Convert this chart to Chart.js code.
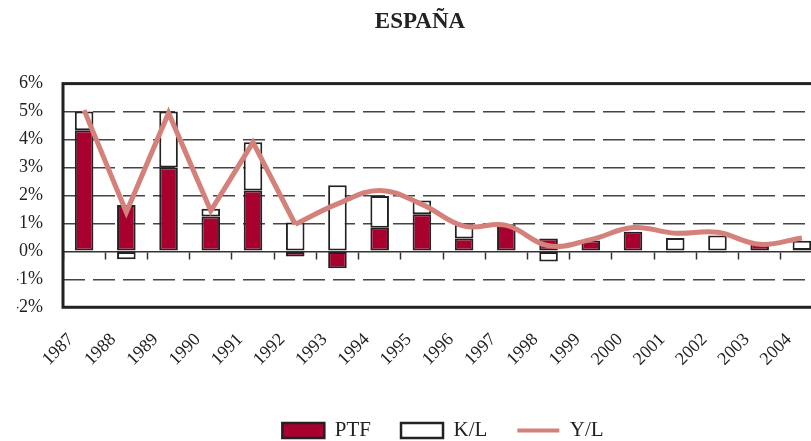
<!DOCTYPE html>
<html>
<head>
<meta charset="utf-8">
<script src="https://cdn.jsdelivr.net/npm/chart.js@4/dist/chart.umd.min.js"></script>
<style>
  html, body { margin: 0; padding: 0; background: #fff; overflow: hidden; }
  #wrap { width: 825px; height: 441px; }
</style>
</head>
<body>
<div id="wrap"><canvas id="myChart"></canvas></div>
<script>
// datos
const years = ['1987', '1988', '1989', '1990', '1991', '1992', '1993', '1994', '1995',
  '1996', '1997', '1998', '1999', '2000', '2001', '2002', '2003', '2004'];
const ptf = [4.33, 1.66, 3.0, 1.25, 2.18, -0.18, -0.6, 0.84, 1.33,
  0.46, 0.97, 0.46, 0.39, 0.7, -0.04, -0.04, 0.26, 0.05];
const kl = [0.67, -0.28, 2.0, 0.27, 1.72, 1.03, 2.36, 1.14, 0.49,
  0.51, 0, -0.36, 0, 0, 0.48, 0.57, 0, 0.33];
const yl = [5.05, 1.4, 4.95, 1.45, 3.9, 0.97, 1.7, 2.18, 1.68,
  0.9, 0.93, 0.2, 0.42, 0.85, 0.65, 0.68, 0.25, 0.48];
const yTicks = [-2, -1, 0, 1, 2, 3, 4, 5, 6];

// la línea Y/L: tramo recto hasta 1992, suavizado después
const sharpUntil = 5;
const ylSharp = yl.map((v, i) => i <= sharpUntil ? v : null);
const ylSmooth = yl.map((v, i) => i >= sharpUntil ? v : null);

const serif = "'Liberation Serif', 'DejaVu Serif', serif";
const ink = '#222';
const lineColor = '#D4807B';

// marco del área del gráfico
const frame = {
  id: 'frame',
  afterDatasetsDraw(chart) {
    const a = chart.chartArea;
    const c = chart.ctx;
    c.save();
    c.strokeStyle = ink;
    c.lineWidth = 3;
    c.strokeRect(a.left, a.top, a.right - a.left, a.bottom - a.top);
    c.restore();
  }
};

const ctx = document.getElementById('myChart');

new Chart(ctx, {
  type: 'bar',
  data: {
    labels: years,
    datasets: [{
      type: 'line',
      label: 'Y/L',
      data: ylSharp,
      borderColor: lineColor,
      backgroundColor: lineColor,
      borderWidth: 5,
      pointRadius: 0,
      tension: 0,
      stack: 'line'
    }, {
      type: 'line',
      label: 'Y/L suave',
      data: ylSmooth,
      borderColor: lineColor,
      backgroundColor: lineColor,
      borderWidth: 5,
      pointRadius: 0,
      tension: 0.4,
      stack: 'line2'
    }, {
      label: 'PTF',
      data: ptf,
      backgroundColor: '#A8002F',
      borderColor: ink,
      borderWidth: 2,
      borderSkipped: false,
      stack: 'bar'
    }, {
      label: 'K/L',
      data: kl,
      backgroundColor: '#fff',
      borderColor: ink,
      borderWidth: 2,
      borderSkipped: false,
      stack: 'bar'
    }]
  },
  options: {
    responsive: true,
    maintainAspectRatio: false,
    animation: false,
    barPercentage: 0.44,
    categoryPercentage: 1,
    layout: { padding: { left: 17, right: 2, bottom: -10 } },
    scales: {
      x: {
        stacked: true,
        grid: { display: false },
        border: { display: false },
        afterFit(scale) {
          scale.height += 6;
          scale.paddingLeft = 0;
          scale.paddingRight = 0;
        },
        ticks: {
          minRotation: 45,
          maxRotation: 45,
          padding: 14,
          labelOffset: -13,
          color: ink,
          font: { family: serif, size: 18 }
        }
      },
      x0: {
        axis: 'x',
        type: 'category',
        position: { y: 0 },
        offset: true,
        grid: { offset: true, drawOnChartArea: false, drawTicks: true, tickLength: 7, tickWidth: 1.5, tickColor: '#333' },
        border: { display: true, color: '#333', width: 1.5 },
        ticks: { display: false }
      },
      y: {
        stacked: true,
        min: -2,
        max: 6,
        afterBuildTicks(scale) {
          scale.ticks = yTicks.map(v => ({ value: v }));
        },
        afterFit(scale) {
          scale.width = 46;
        },
        grid: {
          drawTicks: false,
          lineWidth: 1.5,
          color: (c) => (c.tick && [-2, 0, 6].includes(c.tick.value)) ? 'rgba(0,0,0,0)' : '#444'
        },
        border: { display: false, dash: [22, 8] },
        ticks: {
          padding: 20,
          color: ink,
          font: { family: serif, size: 18 },
          callback: (v) => v + '%'
        }
      }
    },
    plugins: {
      title: {
        display: true,
        text: 'ESPAÑA',
        color: ink,
        font: { family: serif, size: 23, weight: 'bold' },
        padding: { top: 8, bottom: 48 }
      },
      legend: {
        position: 'bottom',
        fullSize: false,
        labels: {
          color: ink,
          font: { family: serif, size: 21 },
          usePointStyle: true,
          pointStyleWidth: 42,
          boxHeight: 15,
          padding: 30,
          generateLabels(chart) {
            const items = Chart.defaults.plugins.legend.labels.generateLabels(chart);
            const byLabel = {};
            items.forEach(it => {
              const ds = chart.data.datasets[it.datasetIndex];
              if (ds.type === 'line') {
                it.pointStyle = 'line';
                it.strokeStyle = ds.borderColor;
                it.lineWidth = 4;
              } else {
                it.pointStyle = 'rect';
                it.fillStyle = ds.backgroundColor;
                it.strokeStyle = ink;
                it.lineWidth = 2.5;
              }
              byLabel[it.text] = it;
            });
            return [byLabel['PTF'], byLabel['K/L'], byLabel['Y/L']];
          }
        }
      },
      tooltip: { enabled: false }
    }
  },
  plugins: [frame]
});
</script>
</body>
</html>
